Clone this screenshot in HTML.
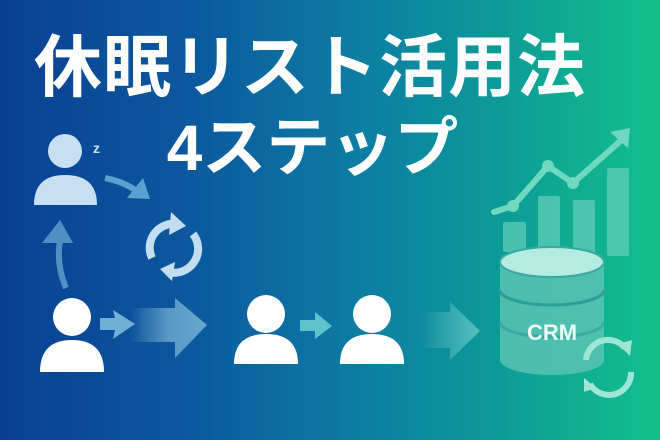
<!DOCTYPE html>
<html><head><meta charset="utf-8"><style>
html,body{margin:0;padding:0}
body{width:660px;height:440px;overflow:hidden;position:relative;background:linear-gradient(90deg,#0a3f93 0%,#0b5a9f 30%,#0c7ea3 55%,#0c9a98 75%,#14c08a 100%);font-family:"Liberation Sans","Noto Sans CJK JP",sans-serif}
svg{position:absolute;left:0;top:0}
.t{position:absolute;color:#fff;font-weight:bold;white-space:nowrap;text-align:center}
</style></head><body>
<svg width="660" height="440" viewBox="0 0 660 440">
<defs>
<linearGradient id="fa" x1="0" x2="1"><stop offset="0" stop-color="#8fc6e0" stop-opacity="0"/><stop offset="0.5" stop-color="#8fc6e0" stop-opacity="0.6"/><stop offset="1" stop-color="#8fc6e0" stop-opacity="0.7"/></linearGradient>
<linearGradient id="fb" x1="0" x2="1"><stop offset="0" stop-color="#8fdcd8" stop-opacity="0"/><stop offset="1" stop-color="#8fdcd8" stop-opacity="0.6"/></linearGradient>
</defs>
<g fill="#c7dff2">
<circle cx="65" cy="151" r="17"/>
<path d="M34 205 Q34 175 65 175 Q97 175 97 205 Z"/>
</g>
<text x="93" y="153" fill="#c7dff2" font-size="14" font-weight="bold" font-family="Liberation Sans">z</text>
<path d="M105 178 Q125 182 138 192" stroke="#5aa3cf" stroke-width="6" fill="none"/>
<path d="M127 198 L150 199 L143 178 Z" fill="#5aa3cf"/>
<path d="M66 288 Q56 265 60 240" stroke="#4f8fc4" stroke-width="6" fill="none"/>
<path d="M42 243 L60 220 L73 243 Z" fill="#4f8fc4"/>
<g fill="none" stroke="#c3def0" stroke-width="8">
<path d="M152 258 A24 24 0 0 1 177 224"/>
<path d="M193 234 A24 24 0 0 1 168 272"/>
</g>
<path d="M171 212 L186 226 L169 235 Z" fill="#c3def0"/>
<path d="M175 262 L160 269 L172 281 Z" fill="#c3def0"/>
<g fill="#fff">
<circle cx="72" cy="317" r="19"/>
<path d="M40 372 Q40 340 72 340 Q104 340 104 372 Z"/>
<circle cx="266" cy="314" r="19"/>
<path d="M234 364 Q234 334 266 334 Q298 334 298 364 Z"/>
<circle cx="372" cy="314" r="19"/>
<path d="M340 364 Q340 334 372 334 Q404 334 404 364 Z"/>
</g>
<path d="M100 318 L115 318 L113 310 L135 324 L113 339 L115 330 L100 330 Z" fill="#6fb0d6"/>
<path d="M130 308 L175 308 L175 298 L207 325 L175 358 L175 342 L130 342 Z" fill="url(#fa)"/>
<path d="M300 320 L315 320 L315 312 L332 326 L315 339 L315 331 L300 331 Z" fill="#5fc3cc"/>
<path d="M420 312 L450 312 L450 302 L480 331 L450 360 L450 348 L420 348 Z" fill="url(#fb)"/>
<g fill="#5fcdb8" opacity="0.75">
<rect x="503" y="222" width="23" height="30" rx="2"/>
<rect x="538" y="196" width="22" height="60" rx="2"/>
<rect x="573" y="200" width="22" height="55" rx="2"/>
<rect x="607" y="168" width="22" height="88" rx="2"/>
</g>
<g stroke="#6fd9c0" stroke-width="6" fill="none" stroke-linecap="round">
<path d="M494 212 L513 206 L548 166 L573 183 L625 137"/>
</g>
<g fill="#6fd9c0"><circle cx="513" cy="206" r="6"/><circle cx="548" cy="166" r="6"/><circle cx="573" cy="183" r="6"/>
<path d="M610 132 L630 128 L628 148 Z"/></g>
<g>
<path d="M500 262 L500 360 A52 15 0 0 0 604 360 L604 262 Z" fill="#5ec6b5" opacity="0.8"/>
<path d="M500 290 A52 15 0 0 0 604 290" stroke="#2a9e98" stroke-width="3" fill="none"/>
<path d="M500 322 A52 15 0 0 0 604 322" stroke="#2a9e98" stroke-width="3" fill="none" opacity="0.6"/>
<ellipse cx="552" cy="262" rx="52" ry="15" fill="#b4ece2"/>
<ellipse cx="552" cy="262" rx="52" ry="15" fill="none" stroke="#3aa9a0" stroke-width="2"/>
</g>
<text x="552" y="340" text-anchor="middle" fill="#eafaf6" font-size="22" font-weight="bold" font-family="Liberation Sans">CRM</text>
<g fill="none" stroke="#9ee6d6" stroke-width="6">
<path d="M586 360 A22 22 0 0 1 625 348"/>
<path d="M631 372 A22 22 0 0 1 590 384"/>
</g>
<path d="M618 344 L632 340 L630 356 Z" fill="#9ee6d6"/>
<path d="M596 388 L584 392 L584 378 Z" fill="#9ee6d6"/>
</svg>
<div class="t" style="left:0;width:620px;top:26px;font-size:68px;line-height:84px;letter-spacing:1px">休眠リスト活用法</div>
<div class="t" style="left:160px;width:305px;top:110px;font-size:64px;line-height:76px">4ステップ</div>
</body></html>
